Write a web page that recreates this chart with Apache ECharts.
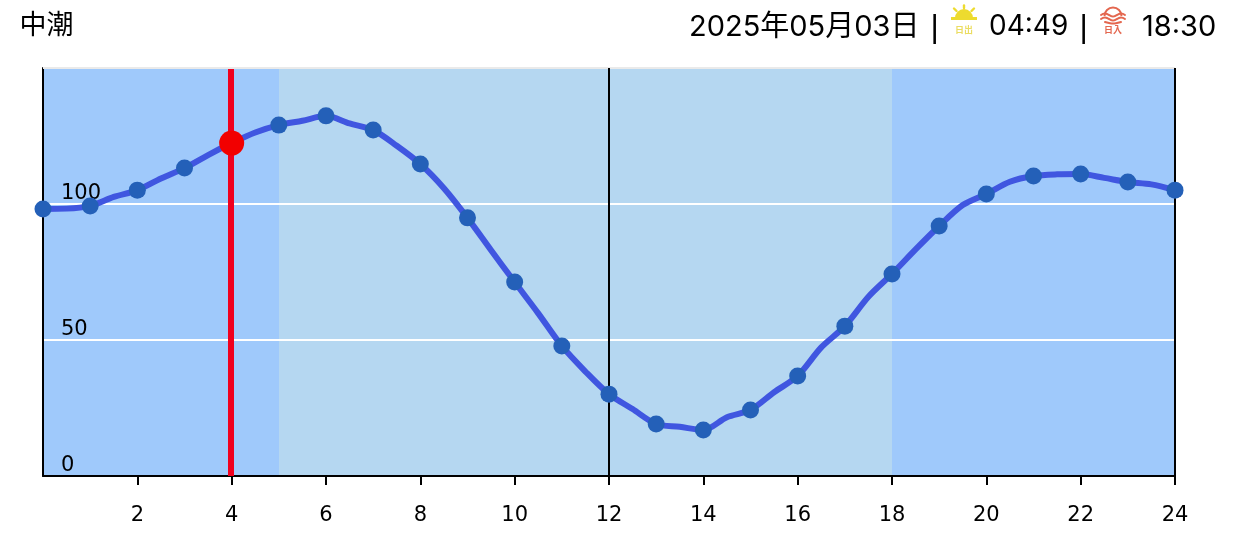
<!DOCTYPE html>
<html>
<head>
<meta charset="utf-8">
<style>html,body{margin:0;padding:0;background:#fff}#chart{width:1244px;height:545px}</style>
<script src="https://cdn.jsdelivr.net/npm/echarts@6/dist/echarts.min.js"></script>
</head>
<body>
<div id="chart"></div>
<script>
// Tide heights
const hours = [0,1,2,3,4,5,6,7,8,9,10,11,12,13,14,15,16,17,18,19,20,21,22,23,24];
const hourlyTide = [98.2,99.3,105.1,113.2,122.4,129,132.4,127.2,114.7,94.9,71.3,47.8,30.1,19.1,16.9,24.3,36.8,55.1,74.3,91.9,103.7,110.3,111,108.1,105.1];
const halfHourTide = [98.3,102.6,109.4,118,126.3,130.6,129.6,121.4,105.8,83,59.8,38.4,24.6,18.1,21.6,30.8,47.3,65.9,83.3,99.6,108.2,110.9,109.6,107.2];
const tickHours = [2,4,6,8,10,12,14,16,18,20,22,24];
const yTicks = [0,50,100];
const nightDayBands = [[0,5,'night'],[5,18,'day'],[18,24,'night']];
const dividerHours = [12,24];
const currentHour = 4;
const currentTide = 122.4;
const titleText = '中潮';
const dateText = '2025年05月03日';
const sunriseText = '04:49';
const sunsetText = '18:30';

const curve = [];
hours.forEach((h, i) => {
  curve.push([h, hourlyTide[i]]);
  if (i < halfHourTide.length) curve.push([h + 0.5, halfHourTide[i]]);
});

const TEXT_FONT = 'Inter,"Noto Sans CJK JP",sans-serif';
const BAR_FONT = '"Liberation Sans",sans-serif';
const AXIS_FONT = '"DejaVu Sans",sans-serif';
const SUN = '#EDDB2E', SUNSET = '#E4674F';
const bandColor = {night:'#9FC9FB', day:'#B5D7F1'};

function headerText(x, y, text, size, family) {
  return {type:'text', x:x, y:y, z:10, style:{text:text, fill:'#000', font:size+'px '+(family||TEXT_FONT), textVerticalAlign:'middle', textBaseline:'middle'}};
}
function stroke(points, color, w, smooth) {
  return {type:'polyline', z:10, shape:{points:points, smooth:smooth||0}, style:{stroke:color, lineWidth:w, fill:null, lineCap:'round'}};
}

const chart = echarts.init(document.getElementById('chart'), null, {renderer:'canvas'});
chart.setOption({
  animation:false,
  backgroundColor:'#fff',
  grid:{left:43, right:69, top:68, bottom:69},
  xAxis:{
    type:'value', min:0, max:24, interval:2, z:2,
    axisLine:{show:true, onZero:false, lineStyle:{color:'#000', width:2}},
    axisTick:{show:true, length:9, customValues:tickHours, lineStyle:{color:'#000', width:2}},
    axisLabel:{margin:29, customValues:tickHours, color:'#000', fontSize:21, fontFamily:AXIS_FONT, hideOverlap:false},
    splitLine:{show:false}
  },
  yAxis:{
    type:'value', min:0, max:150, interval:50, z:2,
    axisLine:{show:true, onZero:false, lineStyle:{color:'#000', width:2}},
    axisTick:{show:false},
    axisLabel:{inside:true, margin:18, customValues:yTicks, color:'#000', fontSize:21, fontFamily:AXIS_FONT, verticalAlign:'bottom', lineHeight:21, padding:[0,0,0,0]},
    splitLine:{show:true, lineStyle:{color:'#fff', width:2}}
  },
  series:[
    {
      type:'custom', z:1, silent:true, clip:true,
      encode:{x:[0,1]},
      data:nightDayBands,
      renderItem:function(params, api){
        const a = api.coord([api.value(0), 150]);
        const b = api.coord([api.value(1), 0]);
        const kind = nightDayBands[params.dataIndex][2];
        const x0 = Math.ceil(a[0]), x1 = Math.ceil(b[0]);
        return {type:'rect', shape:{x:x0, y:a[1], width:x1-x0, height:b[1]-a[1]}, style:{fill:bandColor[kind]}};
      }
    },
    {
      type:'line', z:3, silent:true, data:[], symbol:'none',
      markLine:{
        silent:true, symbol:'none', animation:false, label:{show:false},
        data:[
          {yAxis:150, lineStyle:{color:'#EAEAEA', width:2, type:'solid'}}
        ].concat(dividerHours.map(h => ({xAxis:h, lineStyle:{color:'#000', width:2, type:'solid'}})))
      }
    },
    {
      type:'custom', z:3, silent:true, clip:true,
      encode:{x:0},
      data:[[currentHour]],
      renderItem:function(params, api){
        const top = api.coord([api.value(0), 150]);
        const bottom = api.coord([api.value(0), 0]);
        const x = Math.floor(top[0]);
        return {type:'rect', shape:{x:x-3, y:top[1], width:6, height:bottom[1]-top[1]}, style:{fill:'#F0001E'}};
      }
    },
    {
      type:'line', z:4, clip:false, silent:true, showSymbol:false, symbol:'none',
      smooth:0.3,
      lineStyle:{color:'#4056E0', width:6, cap:'round', join:'round'},
      data:curve
    },
    {
      type:'scatter', z:5, clip:false, silent:true, symbol:'circle', symbolSize:17,
      itemStyle:{color:'#2460B8', opacity:1},
      data:hours.map((h,i) => [h, hourlyTide[i]])
    },
    {
      type:'scatter', z:6, clip:false, silent:true, symbol:'circle', symbolSize:25,
      itemStyle:{color:'#F20000', opacity:1},
      data:[[currentHour, currentTide]]
    }
  ],
  graphic:{elements:[
    headerText(19.5, 26, titleText, 27),
    headerText(689, 27, dateText, 29),
    headerText(930.5, 28, '|', 32, BAR_FONT),
    headerText(989, 27, sunriseText, 28),
    headerText(1079.5, 28, '|', 32, BAR_FONT),
    headerText(1142, 27, sunsetText, 29),
    // sunrise icon
    {type:'sector', z:10, shape:{cx:964, cy:18, r:9, r0:0, startAngle:Math.PI, endAngle:2*Math.PI}, style:{fill:SUN}},
    {type:'rect', z:10, shape:{x:951, y:17, width:26, height:3}, style:{fill:SUN}},
    stroke([[964,5.5],[964,8]], SUN, 2.4),
    stroke([[954,8.5],[956.5,11]], SUN, 2.4),
    stroke([[974,8.5],[971.5,11]], SUN, 2.4),
    {type:'text', z:10, x:964, y:30, style:{text:'日出', fill:'#EBDD62', font:'bold 9px "Noto Sans CJK JP"', textAlign:'center', textVerticalAlign:'middle', textBaseline:'middle'}},
    // sunset icon
    {type:'arc', z:10, shape:{cx:1113, cy:16, r:8.5, startAngle:Math.PI, endAngle:2*Math.PI}, style:{stroke:SUNSET, lineWidth:2, fill:null}},
    stroke([[1101,15],[1105,13.5],[1109,15],[1113,16.5],[1117,15],[1121,13.5],[1125,15]], SUNSET, 2, 0.5),
    stroke([[1101,19],[1105,17.5],[1109,19],[1113,20.5],[1117,19],[1121,17.5],[1125,19]], SUNSET, 2, 0.5),
    stroke([[1105,22],[1109,23],[1113,23.5],[1117,23],[1121,22]], SUNSET, 2, 0.5),
    {type:'text', z:10, x:1113, y:30, style:{text:'日入', fill:SUNSET, font:'bold 9px "Noto Sans CJK JP"', textAlign:'center', textVerticalAlign:'middle', textBaseline:'middle'}}
  ]}
});
</script>
</body>
</html>
